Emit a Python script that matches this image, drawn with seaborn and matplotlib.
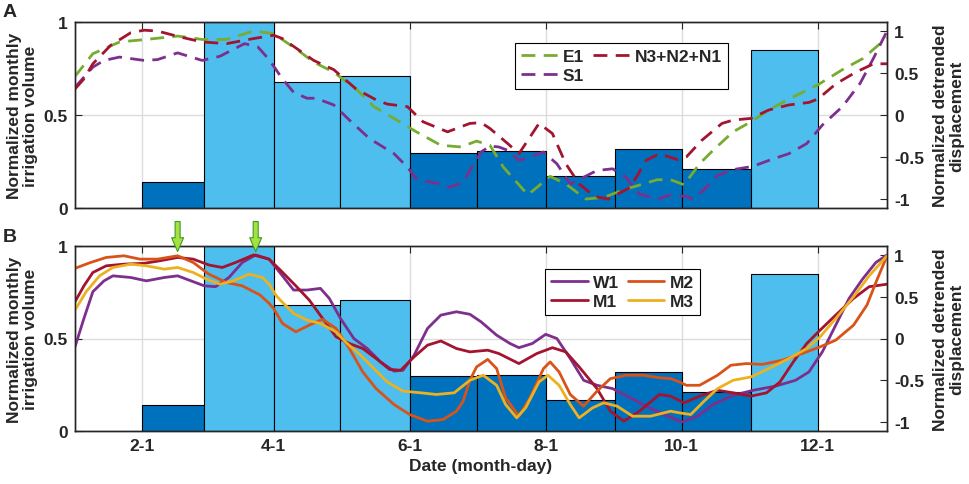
import numpy as np
import pandas as pd
import matplotlib
matplotlib.use('Agg')
import matplotlib.pyplot as plt
import seaborn as sns

# normalized monthly irrigation volume, Feb .. Nov
irrigation = [0.14, 1.00, 0.68, 0.71, 0.295, 0.305, 0.17, 0.32, 0.21, 0.85]
irr_level = ['low', 'high', 'high', 'high', 'low', 'low', 'low', 'low', 'low', 'high']

# panel A - normalized detrended displacement (day of year / value)
e1_day = [2, 10, 22, 34, 48, 59, 70, 82, 91, 102, 109, 118, 128, 136, 145, 155, 166, 175, 182, 188,
          194, 205, 215, 222, 231, 239, 248, 263, 269, 275, 282, 288, 297, 305, 313, 322, 335, 346, 355, 366]
e1_val = [0.46, 0.73, 0.87, 0.90, 0.94, 0.90, 0.90, 1.00, 0.97, 0.77, 0.63, 0.51, 0.31, 0.10, -0.04, -0.20, -0.36, -0.38, -0.31, -0.36,
          -0.62, -0.95, -0.73, -0.82, -1.00, -0.98, -0.89, -0.77, -0.77, -0.83, -0.58, -0.42, -0.20, -0.08, 0.06, 0.19, 0.36, 0.54, 0.67, 0.92]

n_day = [2, 6, 10, 18, 27, 33, 39, 49, 59, 70, 82, 91, 95, 109, 118, 128, 137, 142, 151, 158,
         169, 179, 184, 188, 196, 201, 207, 210, 216, 222, 228, 235, 241, 251, 258, 264, 272, 276, 283, 292,
         297, 305, 313, 322, 331, 335, 343, 352, 360, 366]
n_val = [0.31, 0.43, 0.61, 0.83, 0.98, 1.01, 1.00, 0.93, 0.87, 0.85, 0.91, 0.95, 0.91, 0.65, 0.54, 0.31, 0.18, 0.13, 0.10, -0.08,
         -0.20, -0.10, -0.09, -0.16, -0.34, -0.46, -0.22, -0.10, -0.22, -0.58, -0.82, -0.97, -1.00, -0.86, -0.54, -0.46, -0.53, -0.50, -0.30, -0.10,
         -0.06, -0.04, 0.06, 0.12, 0.15, 0.19, 0.37, 0.51, 0.61, 0.61]

s1_day = [2, 10, 15, 22, 33, 39, 48, 59, 67, 78, 84, 89, 95, 100, 106, 110, 118, 125, 134, 145,
          151, 155, 167, 170, 176, 179, 184, 188, 192, 196, 201, 206, 212, 218, 224, 230, 236, 243, 249, 255,
          263, 269, 276, 279, 284, 290, 297, 306, 313, 322, 330, 337, 346, 354, 360, 366]
s1_val = [0.33, 0.57, 0.65, 0.69, 0.65, 0.66, 0.74, 0.65, 0.70, 0.85, 0.81, 0.66, 0.43, 0.27, 0.20, 0.20, 0.12, -0.06, -0.28, -0.46,
          -0.62, -0.76, -0.83, -0.86, -0.80, -0.66, -0.44, -0.37, -0.38, -0.42, -0.54, -0.50, -0.44, -0.58, -0.82, -0.74, -0.66, -0.64, -0.74, -0.94,
          -1.00, -0.95, -0.97, -1.00, -0.89, -0.72, -0.65, -0.61, -0.54, -0.46, -0.34, -0.12, 0.10, 0.38, 0.68, 1.00]

# panel B
w1_day = [2, 6, 10, 15, 19, 27, 34, 42, 48, 54, 60, 65, 71, 77, 83, 89, 95, 100, 106, 112,
          116, 121, 127, 133, 139, 145, 149, 154, 160, 166, 173, 179, 184, 191, 197, 201, 207, 213, 218, 224,
          230, 236, 243, 251, 258, 266, 274, 281, 288, 297, 306, 316, 325, 331, 337, 343, 349, 355, 361, 366]
w1_val = [-0.10, 0.24, 0.56, 0.69, 0.75, 0.73, 0.69, 0.73, 0.75, 0.69, 0.63, 0.62, 0.73, 0.91, 1.00, 0.95, 0.75, 0.58, 0.58, 0.60,
          0.48, 0.24, 0.00, -0.12, -0.28, -0.39, -0.38, -0.20, 0.12, 0.28, 0.32, 0.29, 0.20, 0.04, -0.06, -0.11, -0.06, 0.05, 0.00, -0.24,
          -0.50, -0.56, -0.60, -0.71, -0.81, -0.91, -1.00, -0.93, -0.79, -0.68, -0.62, -0.57, -0.50, -0.40, -0.16, 0.16, 0.48, 0.71, 0.91, 1.00]

m1_day = [2, 6, 10, 16, 24, 33, 40, 48, 55, 62, 68, 74, 82, 89, 94, 101, 107, 113, 119, 125,
          131, 137, 143, 148, 154, 160, 166, 173, 179, 187, 192, 201, 209, 216, 222, 228, 236, 242, 248, 255,
          264, 269, 275, 282, 290, 297, 305, 312, 318, 324, 330, 336, 343, 351, 358, 366]
m1_val = [0.44, 0.63, 0.79, 0.87, 0.89, 0.90, 0.93, 0.97, 0.95, 0.88, 0.85, 0.91, 1.00, 0.95, 0.82, 0.63, 0.46, 0.24, 0.02, -0.06,
          -0.12, -0.24, -0.37, -0.38, -0.22, -0.08, -0.03, -0.12, -0.16, -0.14, -0.18, -0.30, -0.18, -0.11, -0.16, -0.34, -0.60, -0.87, -0.99, -0.87,
          -0.67, -0.69, -0.77, -0.69, -0.62, -0.65, -0.69, -0.65, -0.52, -0.28, -0.06, 0.10, 0.28, 0.48, 0.62, 0.65]

m2_day = [2, 9, 16, 24, 31, 39, 48, 55, 62, 70, 77, 85, 89, 91, 95, 101, 107, 113, 119, 125,
          131, 137, 145, 152, 160, 167, 173, 176, 179, 182, 187, 191, 195, 201, 206, 212, 215, 219, 224, 230,
          236, 242, 249, 257, 264, 269, 273, 276, 282, 290, 296, 303, 310, 319, 328, 336, 343, 351, 357, 361, 366]
m2_val = [0.84, 0.91, 0.97, 0.99, 0.95, 0.95, 0.99, 0.91, 0.77, 0.67, 0.63, 0.52, 0.42, 0.36, 0.18, 0.08, 0.16, 0.23, 0.12, -0.12,
          -0.40, -0.60, -0.79, -0.91, -0.99, -0.97, -0.87, -0.75, -0.50, -0.34, -0.25, -0.36, -0.71, -0.93, -0.71, -0.36, -0.28, -0.40, -0.67, -0.81,
          -0.63, -0.48, -0.44, -0.44, -0.47, -0.48, -0.52, -0.56, -0.56, -0.44, -0.32, -0.30, -0.31, -0.26, -0.18, -0.10, -0.02, 0.16, 0.40, 0.67, 0.99]

m3_day = [2, 7, 13, 19, 27, 34, 42, 48, 55, 61, 67, 73, 80, 86, 89, 92, 94, 100, 106, 112,
          119, 124, 130, 136, 142, 149, 157, 164, 172, 179, 185, 191, 195, 200, 204, 210, 214, 219, 224, 228,
          234, 239, 245, 252, 260, 269, 273, 278, 284, 290, 297, 305, 313, 322, 330, 336, 343, 351, 358, 366]
m3_val = [0.34, 0.56, 0.75, 0.85, 0.89, 0.87, 0.83, 0.85, 0.79, 0.71, 0.65, 0.69, 0.77, 0.73, 0.65, 0.52, 0.46, 0.30, 0.22, 0.18,
          0.08, -0.06, -0.20, -0.36, -0.52, -0.63, -0.65, -0.67, -0.65, -0.50, -0.44, -0.56, -0.79, -0.95, -0.83, -0.52, -0.44, -0.56, -0.79, -0.95,
          -0.83, -0.77, -0.81, -0.93, -0.93, -0.87, -0.89, -0.91, -0.75, -0.60, -0.50, -0.46, -0.36, -0.24, -0.12, 0.02, 0.24, 0.50, 0.75, 0.99]

arrow_days = [48, 83]

sns.set_style('white')
plt.rcParams['font.family'] = ['Liberation Sans', 'DejaVu Sans']
plt.rcParams['font.weight'] = 'bold'
plt.rcParams['axes.labelweight'] = 'bold'
plt.rcParams['font.size'] = 12.5
plt.rcParams['axes.edgecolor'] = '#262626'
plt.rcParams['axes.linewidth'] = 1.0

months = pd.date_range('2021-02-01', '2021-11-01', freq='MS')
tick_dates = pd.date_range('2021-02-01', '2021-12-01', freq='2MS')
tick_pos = list(tick_dates.dayofyear)
tick_lab = [f'{d.month}-{d.day}' for d in tick_dates]
bar_colors = {'low': '#0072BD', 'high': '#4DBEEE'}

fig = plt.figure(figsize=(9.69, 4.85), dpi=100)


def draw_panel(rect, lines, ls, anchor, bottom):
    ax = fig.add_axes(rect)
    ax.bar(months.dayofyear, irrigation, width=months.days_in_month, align='edge',
           color=[bar_colors[k] for k in irr_level], edgecolor='black', linewidth=0.8)
    ax.set_xlim(2, 366)
    ax.set_ylim(0, 1)
    ax.set_yticks([0, 0.5, 1], ['0', '0.5', '1'])
    ax.set_xticks(tick_pos, tick_lab)
    ax.grid(True, color='#dcdcdc', linewidth=1)
    ax.set_axisbelow(True)
    ax.tick_params(axis='both', direction='in', length=5, top=True, pad=5,
                   color='#262626', labelbottom=bottom)
    ax.set_ylabel('Normalized monthly\nirrigation volume', linespacing=1.05)
    ax.yaxis.set_label_coords(-0.046, 0.5)

    ax2 = ax.twinx()
    for name, days, vals, color in lines:
        sns.lineplot(x=days, y=vals, ax=ax2, color=color, linewidth=2.0,
                     linestyle=ls, label=name)
    ax2.set_ylim(-1.107, 1.107)
    ax2.set_yticks([-1, -0.5, 0, 0.5, 1], ['-1', '-0.5', '0', '0.5', '1'])
    ax2.tick_params(direction='in', length=5, pad=5, color='#262626')
    ax2.set_ylabel('Normalized detrended\ndisplacement', linespacing=1.05)
    ax2.yaxis.set_label_coords(1.057, 0.5)
    h, l = ax2.get_legend_handles_labels()
    leg = ax2.legend(h, l, ncol=2, loc='upper left', bbox_to_anchor=anchor,
                     frameon=True, fancybox=False, edgecolor='black', framealpha=1,
                     handlelength=2.1, handletextpad=0.3, columnspacing=0.5,
                     borderpad=0.35, labelspacing=0.2, borderaxespad=0)
    leg.get_frame().set_linewidth(0.8)
    return ax, ax2


dash = (0, (5, 3))
axA, axA2 = draw_panel([0.0774, 0.569, 0.838, 0.3835],
                       [('E1', e1_day, e1_val, '#77AC30'),
                        ('S1', s1_day, s1_val, '#7E2F8E'),
                        ('N3+N2+N1', n_day, n_val, '#A2142F')],
                       dash, (0.542, 0.887), False)

axB, axB2 = draw_panel([0.0774, 0.1093, 0.838, 0.3814],
                       [('W1', w1_day, w1_val, '#7E2F8E'),
                        ('M1', m1_day, m1_val, '#A2142F'),
                        ('M2', m2_day, m2_val, '#D95319'),
                        ('M3', m3_day, m3_val, '#EDB120')],
                       '-', (0.579, 0.876), True)
axB.set_xlabel('Date (month-day)', labelpad=4)

for d in arrow_days:
    axB2.annotate('', xy=(d, 1.04), xytext=(d, 1.40), annotation_clip=False,
                  arrowprops=dict(arrowstyle='simple,head_width=0.86,head_length=1.0,tail_width=0.36',
                                  fc='#a5e23f', ec='#3c9a2c', lw=0.8, mutation_scale=10,
                                  shrinkA=0, shrinkB=0))

fig.text(0.003, 1 - 12.5 / 485, 'A', ha='left', va='center', fontsize=14, weight='bold')
fig.text(0.003, 1 - 237.5 / 485, 'B', ha='left', va='center', fontsize=14, weight='bold')

fig.savefig('out.png', dpi=100)
